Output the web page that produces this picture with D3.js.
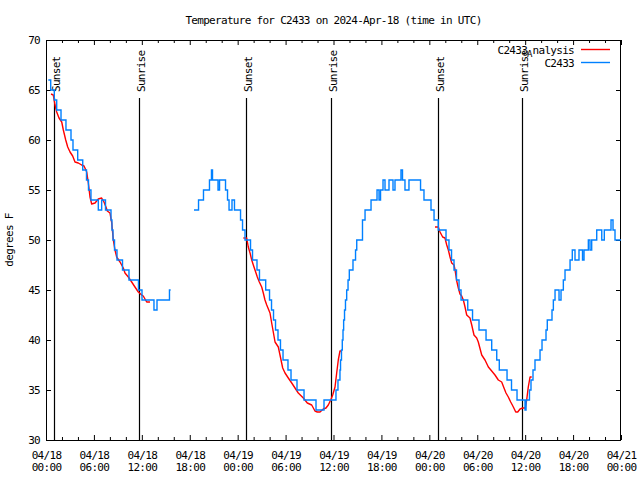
<!DOCTYPE html>
<html><head><meta charset="utf-8">
<script src="https://cdn.jsdelivr.net/npm/d3@7"></script>
<style>body{margin:0;background:#fff}</style>
</head><body>
<svg id="chart" width="640" height="480"></svg>
<script>
// ---- data (hours after 2024-04-18 00:00 UTC, degrees F) ----
const titleText = "Temperature for C2433 on 2024-Apr-18 (time in UTC)";
const yLabel = "degrees F";
const xTickHours = [0, 6, 12, 18, 24, 30, 36, 42, 48, 54, 60, 66, 72];
const yTickValues = [30, 35, 40, 45, 50, 55, 60, 65, 70];
const sunLabels = ["Sunset", "Sunrise", "Sunset", "Sunrise", "Sunset", "Sunrise"];
const sunHours = [1.04, 11.68, 25.08, 35.72, 49.12, 59.64];
const seriesNames = ["C2433_Analysis", "C2433"];

// station observations (value holds until next point)
const stationObs1 = [
  [0.29,66],[0.59,65],[1.04,64],[1.34,63],[1.88,62],[2.50,61],[3.13,60],[3.38,59],
  [3.97,58],[4.60,57],[5.07,56],[5.32,55],[5.63,54],[6.55,53],[6.97,54],[7.45,53],
  [8.14,52],[8.26,51],[8.39,50],[8.58,49],[8.89,48],[9.58,47],[10.39,46],[11.58,45],
  [12.02,44],[13.52,43],[13.90,44],[15.46,45],[15.61,45]
];
const stationObs2 = [
  [18.53,53],[19.10,54],[19.72,55],[20.47,56],[20.72,57],[20.85,56],[21.54,55],[21.73,56],
  [22.48,55],[22.73,54],[22.92,53],[23.29,54],[23.60,53],[24.36,52],[24.61,51],[24.92,50],
  [25.61,49],[25.86,48],[26.42,47],[26.73,46],[27.51,45],[27.99,44],[28.24,43],[28.49,42],
  [28.74,41],[29.05,40],[29.36,39],[29.68,38],[30.30,37],[30.68,36],[31.43,35],[32.31,34],
  [33.81,33],[34.81,34],[36.31,35],[36.56,36],[36.81,37],[36.88,38],[37.00,39],[37.10,40],
  [37.19,41],[37.27,42],[37.38,43],[37.50,44],[37.65,45],[37.82,46],[37.98,47],[38.44,48],
  [38.76,49],[38.91,50],[39.63,52],[39.95,53],[40.70,54],[41.45,55],[41.70,54],[41.89,55],
  [42.20,56],[42.45,55],[42.95,56],[43.45,55],[43.70,56],[44.45,57],[44.64,56],[44.95,55],
  [45.45,56],[46.90,55],[47.33,54],[48.21,53],[48.59,52],[49.12,51],[50.09,50],[50.46,49],
  [50.78,48],[51.09,47],[51.40,46],[51.72,45],[51.97,44],[52.81,43],[53.41,42],[54.22,41],
  [55.10,40],[55.81,39],[56.44,38],[56.76,37],[57.73,36],[58.29,35],[58.98,34],[59.98,33],
  [60.11,34],[60.54,35],[60.73,36],[60.98,37],[61.23,38],[61.86,39],[62.11,40],[62.61,41],
  [62.77,42],[63.36,43],[63.53,44],[63.74,45],[64.24,44],[64.49,45],[64.78,46],[64.99,47],
  [65.62,48],[65.90,49],[66.24,48],[66.74,49],[67.18,48],[67.37,49],[67.91,50],[68.12,49],
  [68.33,50],[68.96,51],[69.59,50],[69.91,51],[70.75,52],[71.00,51],[71.25,50],[72.00,50]
];
// analysis
const analysis1 = [
  [0.63,64.6],[0.91,64.5],[1.13,63.5],[1.34,62.8],[1.63,62.2],[1.97,61.8],[2.17,61.0],[2.47,60.0],
  [2.72,59.3],[3.01,58.8],[3.34,58.4],[3.63,57.8],[4.04,57.7],[4.47,57.5],[4.76,57.4],[5.10,56.8],
  [5.30,55.7],[5.51,54.3],[5.72,53.6],[6.14,53.7],[6.55,54.1],[6.97,54.2],[7.26,53.8],[7.51,53.3],
  [7.68,52.9],[8.01,52.7],[8.23,51.7],[8.43,50.0],[8.64,49.0],[8.85,48.3],[9.27,47.8],[9.68,47.2],
  [9.89,46.7],[10.31,46.3],[10.73,45.8],[11.14,45.3],[11.56,44.8],[11.98,44.5],[12.18,44.4],
  [12.61,43.8],[13.02,43.8]
];
const analysis2 = [
  [24.71,50.2],[25.13,50.2],[25.33,49.3],[25.55,48.7],[25.76,48.0],[25.96,47.5],[26.17,47.0],
  [26.46,46.3],[26.71,45.8],[27.01,45.3],[27.21,44.7],[27.42,44.0],[27.64,43.5],[28.05,42.7],
  [28.26,41.7],[28.46,40.8],[28.68,39.8],[29.09,39.3],[29.30,38.5],[29.64,37.2],[29.93,36.7],
  [30.34,36.2],[30.77,35.7],[31.18,35.2],[31.59,34.7],[32.22,34.2],[32.72,33.7],[33.27,33.5],
  [33.68,32.9],[33.97,32.8],[34.31,32.8],[34.72,33.1],[35.06,33.2],[35.35,33.5],[35.65,34.0],
  [35.90,34.5],[36.19,35.3],[36.40,36.7],[36.60,38.0],[36.81,38.9],[37.03,38.9]
];
const analysis3 = [
  [48.71,51.3],[49.12,51.3],[49.34,50.8],[49.67,50.3],[49.96,50.2],[50.18,49.5],[50.38,49.0],
  [50.59,48.3],[50.80,47.7],[51.09,47.5],[51.22,47.0],[51.43,45.9],[51.63,45.2],[51.84,44.6],
  [52.05,44.4],[52.26,44.0],[52.47,43.3],[52.68,42.5],[53.09,42.2],[53.31,41.5],[53.59,40.5],
  [53.93,40.2],[54.13,39.8],[54.56,38.5],[54.97,38.0],[55.39,37.3],[55.81,36.9],[56.22,36.5],
  [56.64,36.0],[57.06,35.8],[57.35,35.2],[57.60,34.7],[57.89,34.3],[58.19,33.8],[58.52,33.3],
  [58.82,32.8],[59.07,32.8],[59.36,33.1],[59.69,33.2],[60.02,33.2],[60.19,34.0],[60.39,35.3],
  [60.61,36.3],[60.82,36.3]
];

// ---- drawing ----
const svg = d3.select("#chart");
const FONT = "'DejaVu Sans Mono', monospace";
const W = 640, H = 480;
const mLeft = 46, mRight = 621, mTop = 40, mBottom = 440;
const base = Date.UTC(2024, 3, 18, 0, 0);
const toDate = h => new Date(base + h * 3600e3);

const x = d3.scaleUtc().domain([toDate(0), toDate(72)]).range([mLeft, mRight]);
const y = d3.scaleLinear().domain([30, 70]).range([mBottom, mTop]);

svg.append("rect").attr("width", W).attr("height", H).attr("fill", "#fff");

const fmtDay = d3.utcFormat("%m/%d"), fmtTime = d3.utcFormat("%H:%M");
const majorTicks = xTickHours.map(toDate);
const minorTicks = d3.range(0, 73, 2).filter(h => h % 6 !== 0).map(toDate);

function styleAxis(g) {
  g.select(".domain").remove();
  g.selectAll("line").attr("stroke", "#000");
  g.selectAll("text").attr("font-family", FONT).attr("font-size", 11)
    .attr("letter-spacing", -0.7).attr("fill", "#000");
}

// bottom axis
const gx = svg.append("g").attr("transform", `translate(0,${mBottom})`)
  .call(d3.axisBottom(x).tickValues(majorTicks).tickSizeInner(-5).tickSizeOuter(0).tickPadding(0));
gx.call(styleAxis);
gx.selectAll(".tick text").each(function(d) {
  const t = d3.select(this).attr("y", 19).attr("dy", null).text(null);
  t.append("tspan").attr("x", 0).text(fmtDay(d));
  t.append("tspan").attr("x", 0).attr("dy", 12).text(fmtTime(d));
});
svg.append("g").attr("transform", `translate(0,${mBottom})`)
  .call(d3.axisBottom(x).tickValues(minorTicks).tickSizeInner(-3).tickSizeOuter(0).tickFormat(""))
  .call(styleAxis);
// top mirror
svg.append("g").attr("transform", `translate(0,${mTop})`)
  .call(d3.axisTop(x).tickValues(majorTicks).tickSizeInner(-5).tickSizeOuter(0).tickFormat(""))
  .call(styleAxis);
svg.append("g").attr("transform", `translate(0,${mTop})`)
  .call(d3.axisTop(x).tickValues(minorTicks).tickSizeInner(-3).tickSizeOuter(0).tickFormat(""))
  .call(styleAxis);
// left axis
svg.append("g").attr("transform", `translate(${mLeft},0)`)
  .call(d3.axisLeft(y).tickValues(yTickValues).tickSizeInner(-5).tickSizeOuter(0).tickPadding(6).tickFormat(d3.format("d")))
  .call(styleAxis);
// right mirror
svg.append("g").attr("transform", `translate(${mRight},0)`)
  .call(d3.axisRight(y).tickValues(yTickValues).tickSizeInner(-5).tickSizeOuter(0).tickFormat(""))
  .call(styleAxis);

// frame
svg.append("rect").attr("x", mLeft + 0.5).attr("y", mTop + 0.5)
  .attr("width", mRight - mLeft - 1).attr("height", mBottom - mTop)
  .attr("fill", "none").attr("stroke", "#000").attr("stroke-width", 1);

// sunrise / sunset markers
sunHours.forEach((h, i) => {
  const xp = Math.round(x(toDate(h))) + 0.5;
  svg.append("line").attr("x1", xp).attr("x2", xp).attr("y1", 98).attr("y2", mBottom)
    .attr("stroke", "#000").attr("stroke-width", 1.2);
  svg.append("text").attr("transform", `translate(${xp + 5.5},92) rotate(-90)`)
    .attr("font-family", FONT).attr("font-size", 11).attr("letter-spacing", -0.7)
    .attr("text-anchor", "start").text(sunLabels[i]);
});

// series
const line = d3.line().x(d => x(toDate(d[0]))).y(d => y(d[1]));
const stepLine = d3.line().x(d => x(toDate(d[0]))).y(d => y(d[1])).curve(d3.curveStepAfter);
svg.append("clipPath").attr("id", "plotclip").append("rect")
  .attr("x", mLeft).attr("y", mTop).attr("width", mRight - mLeft).attr("height", mBottom - mTop);
const plot = svg.append("g").attr("clip-path", "url(#plotclip)");
[analysis1, analysis2, analysis3].forEach(seg => {
  plot.append("path").datum(seg).attr("d", line).attr("fill", "none")
    .attr("stroke", "#ff0000").attr("stroke-width", 1.4).attr("stroke-linejoin", "round");
});
[stationObs1, stationObs2].forEach(seg => {
  plot.append("path").datum(seg).attr("d", stepLine).attr("fill", "none")
    .attr("stroke", "#0080ff").attr("stroke-width", 1.4);
});

// title
svg.append("text").attr("x", 333.5).attr("y", 24).attr("text-anchor", "middle")
  .attr("font-family", FONT).attr("font-size", 11).attr("letter-spacing", -0.7).text(titleText);

// y label
svg.append("text").attr("transform", `translate(13,240) rotate(-90)`).attr("text-anchor", "middle")
  .attr("font-family", FONT).attr("font-size", 11).attr("letter-spacing", -0.7).text(yLabel);

// legend
const legColors = ["#ff0000", "#0080ff"];
seriesNames.forEach((name, i) => {
  const ly = 49.5 + i * 13;
  const t = svg.append("text").attr("x", 574).attr("y", ly + 4).attr("text-anchor", "end")
    .attr("font-family", FONT).attr("font-size", 11).attr("letter-spacing", -0.7);
  const parts = name.split("_");
  t.append("tspan").text(parts[0]);
  if (parts.length > 1) {
    t.append("tspan").attr("dy", 3).attr("font-size", 9).attr("letter-spacing", 0).text(parts[1][0]);
    t.append("tspan").attr("dy", -3).text(parts[1].slice(1));
  }
  svg.append("line").attr("x1", 581).attr("x2", 610).attr("y1", ly).attr("y2", ly)
    .attr("stroke", legColors[i]).attr("stroke-width", 1.4);
});
</script>
</body></html>
